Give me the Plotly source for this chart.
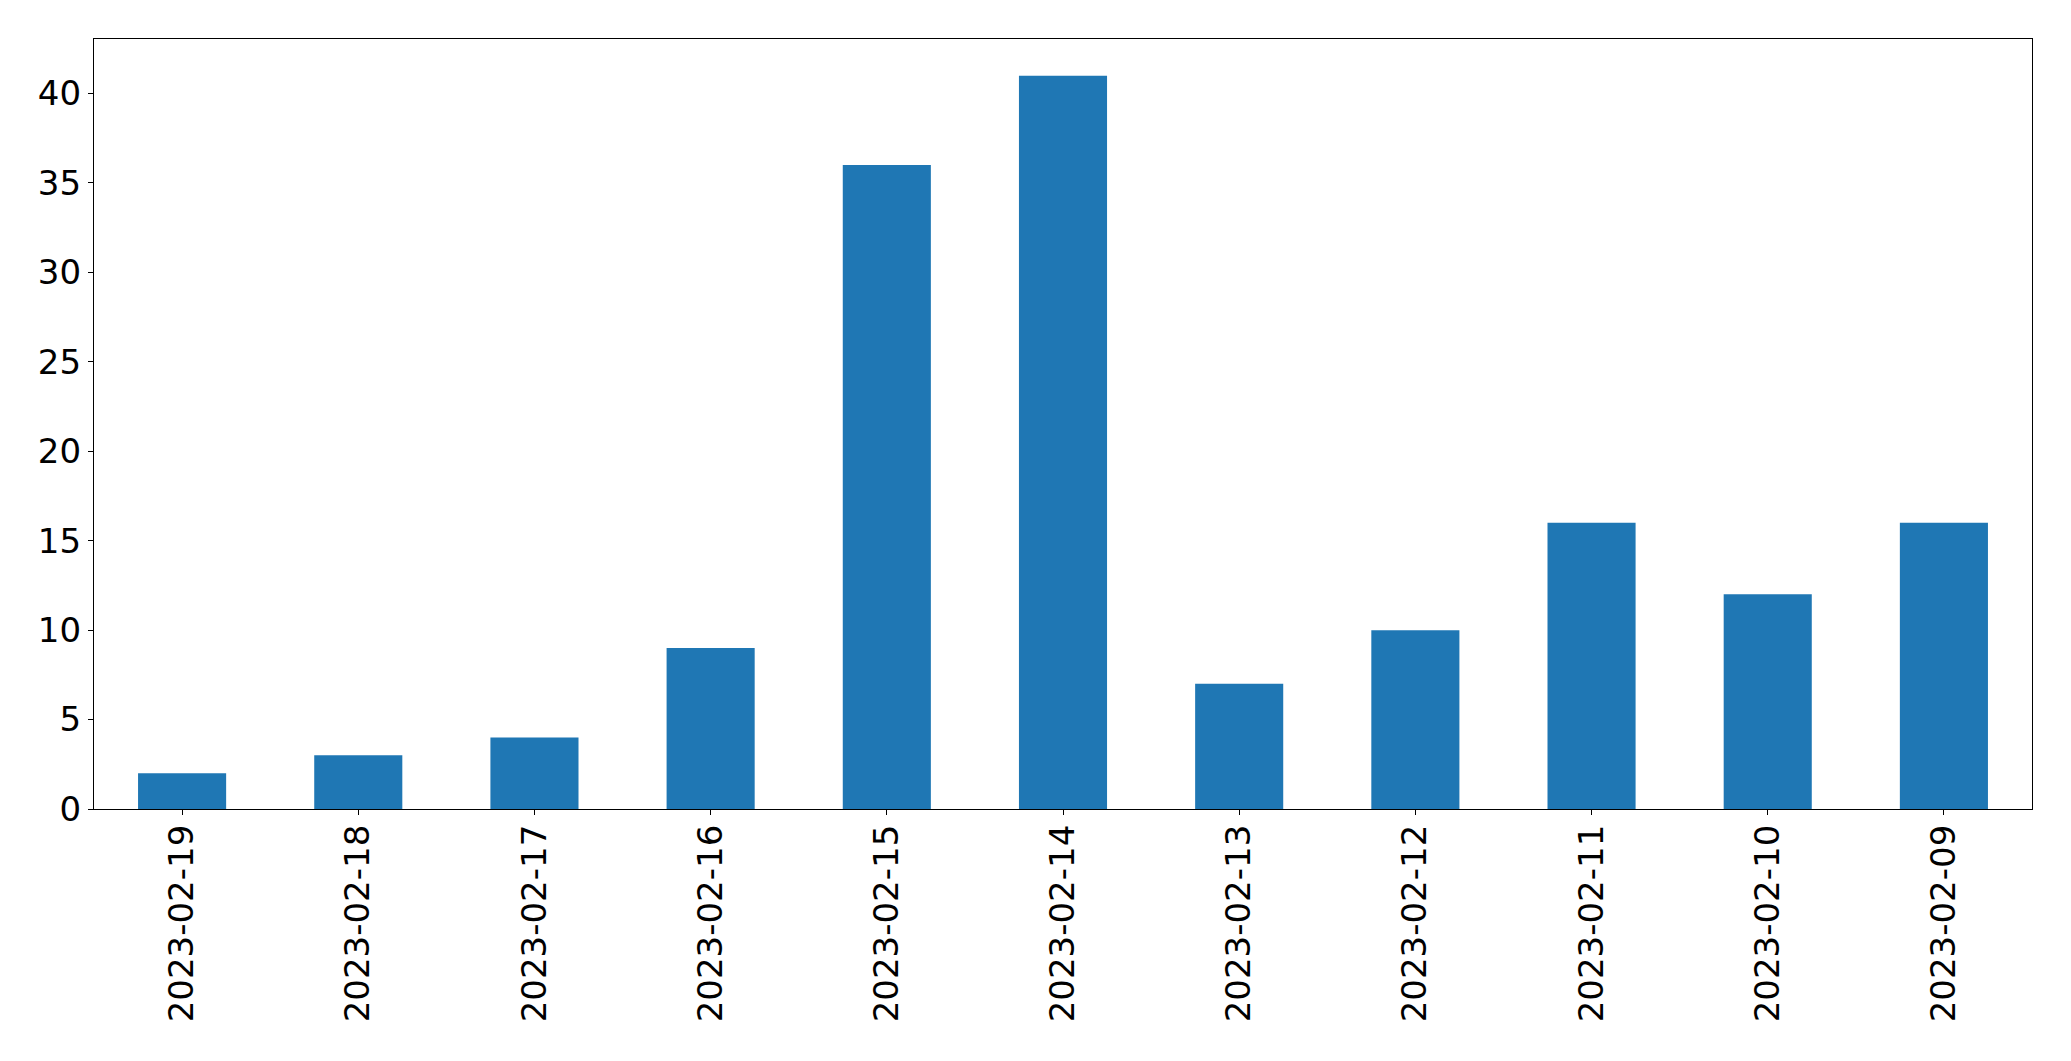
import plotly.graph_objects as go

categories = ["2023-02-19", "2023-02-18", "2023-02-17", "2023-02-16", "2023-02-15",
              "2023-02-14", "2023-02-13", "2023-02-12", "2023-02-11", "2023-02-10", "2023-02-09"]
values = [2, 3, 4, 9, 36, 41, 7, 10, 16, 12, 16]
y_ticks = [0, 5, 10, 15, 20, 25, 30, 35, 40]

fig = go.Figure(go.Bar(x=categories, y=values, marker_color="#1f77b4",
                       marker_line_width=0, width=0.5))

fig.update_layout(
    width=2071, height=1061,
    margin=dict(l=94, r=39, t=39, b=252),
    paper_bgcolor="white", plot_bgcolor="white",
    font=dict(family="DejaVu Sans", size=34, color="black"),
    showlegend=False, bargap=0.5,
)
fig.update_xaxes(type="category", range=[-0.5, 10.5], tickangle=-90,
                 showline=True, linecolor="black", linewidth=1.3, mirror=True,
                 ticks="outside", ticklen=5, tickwidth=1.3, tickcolor="black",
                 ticklabelstandoff=-4,
                 showgrid=False, zeroline=False)
fig.update_yaxes(range=[0, 43.05], tickvals=y_ticks,
                 showline=True, linecolor="black", linewidth=1.3, mirror=True,
                 ticks="outside", ticklen=5, tickwidth=1.3, tickcolor="black",
                 showgrid=False, zeroline=False)

fig.write_html("out.html", config={"displayModeBar": False},
               post_script="document.body.style.margin='0';document.body.style.overflow='hidden';")
